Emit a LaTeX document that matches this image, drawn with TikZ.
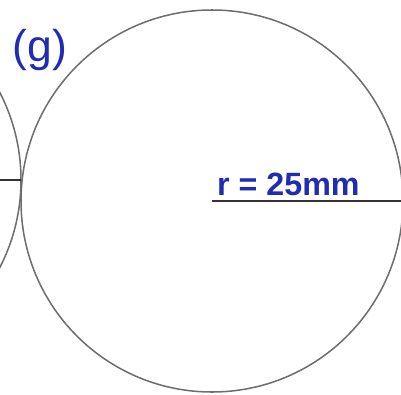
\documentclass[tikz,border=0pt]{standalone}
\usepackage{fontspec}
\setmainfont{Liberation Sans}
\usetikzlibrary{positioning}
\definecolor{penblue}{RGB}{32,44,178}
\definecolor{pencil}{RGB}{110,110,110}
\tikzset{
    rim/.style={draw=pencil, line width=1.3pt},
    radline/.style={draw=black!80, line width=1.2pt},
    hand/.style={text=penblue, font=\bfseries, inner sep=0pt}
}
\begin{document}
\begin{tikzpicture}[x=0.03cm, y=-0.03cm]
    \useasboundingbox (0,0) rectangle (401,394);
    \coordinate (bigc) at (212,201);
    \coordinate (leftc) at (-170,180);
    \draw[rim] (bigc) circle[radius=191];
    \draw[rim] (leftc) circle[radius=191];
    \coordinate (bigedge) at (403,201);
    \coordinate (leftedge) at (21,180);
    \draw[radline] (bigc) -- (bigedge);
    \draw[radline] (leftc) -- (leftedge);
    \node[hand, font=\fontsize{38}{38}\selectfont] (part) at (40,50) {(g)};
    \node[hand, font=\fontsize{27.5}{27.5}\selectfont\bfseries, anchor=base west] (rlab) at (217,195) {r = 25mm};
\end{tikzpicture}
\end{document}
